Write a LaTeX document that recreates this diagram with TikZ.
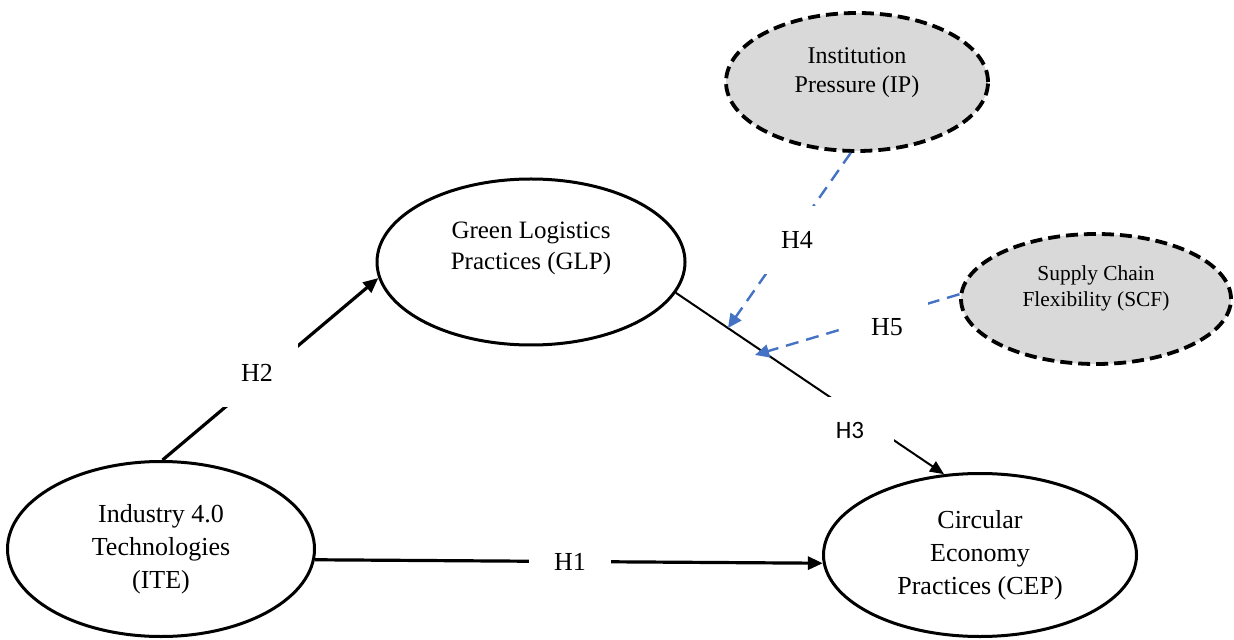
\documentclass[tikz,border=0pt]{standalone}
\usepackage{fontspec}
\setmainfont{Liberation Serif}
\newfontfamily\labelsans{Carlito}
\usepackage{xcolor}
\definecolor{hypblue}{RGB}{68,114,196}
\definecolor{modgray}{RGB}{217,217,217}
\usepackage{tikz}
\usetikzlibrary{shapes.geometric}
\usetikzlibrary{arrows.meta}
\newcommand{\hypsep}{12.5pt}
\newcommand{\bigtext}{\fontsize{13}{16.5}\selectfont}
\tikzset{
    construct/.style={draw, ellipse, line width=1.5pt, inner sep=0pt, align=center, font=\bigtext},
    moderator/.style={construct, fill=modgray, line width=1.9pt, dash pattern=on 6pt off 3pt},
    inside/.style={align=center, inner sep=0pt},
    hyp/.style={fill=white, inner sep=\hypsep, font=\fontsize{13}{16}\selectfont},
    main-path/.style={-{Triangle[length=7.5pt, width=6.5pt]}, line width=1.6pt},
    mod-path/.style={-{Triangle[length=7pt, width=6.5pt]}, hypblue, line width=1.2pt, dash pattern=on 6.5pt off 4pt}
}
\begin{document}
\begin{tikzpicture}[x=0.5pt, y=-0.5pt]
    \useasboundingbox (0,0) rectangle (1234,640);

    \node[construct, minimum width=153.5pt, minimum height=87.5pt] (ite) at (161,549) {Industry 4.0\\Technologies\\(ITE)};
    \node[construct, minimum width=154pt, minimum height=83pt,
          label={[inside, font=\fontsize{12.5}{15.5}\selectfont, yshift=6.7pt]center:{Green Logistics\\Practices (GLP)}}] (glp) at (531,262) {};
    \node[construct, minimum width=156.5pt, minimum height=81.5pt] (cep) at (980,555) {Circular\\Economy\\Practices (CEP)};
    \node[moderator, minimum width=131pt, minimum height=69pt,
          label={[inside, font=\fontsize{12}{14.5}\selectfont, yshift=4.8pt]center:{Institution\\Pressure (IP)}}] (ip) at (857,82) {};
    \node[moderator, minimum width=135pt, minimum height=65pt,
          label={[inside, font=\fontsize{10.7}{13.4}\selectfont, yshift=5.3pt]center:{Supply Chain\\Flexibility (SCF)}}] (scf) at (1096,299) {};

    % points where the moderators hit the GLP -> CEP path
    \coordinate (mod-ip) at (728,328);
    \coordinate (mod-scf) at (755,355);

    \draw[main-path] (ite.89) -- (glp.186);
    \draw[main-path] (ite.-4) -- (cep.183);
    \draw[-{Triangle[length=7pt, width=6pt]}, line width=1pt] (glp.-12) -- (cep.114);
    \draw[mod-path] (ip.-95) -- (mod-ip);
    \draw[mod-path] (scf.178) -- (mod-scf);

    \node[hyp] (h1) at (570,562) {H1};
    \node[hyp] (h2) at (257,373) {H2};
    \node[hyp, inner xsep=15pt, font=\labelsans\fontsize{12.5}{15}\selectfont] (h3) at (850,430) {H3};
    \node[hyp] (h4) at (797,240) {H4};
    \node[hyp] (h5) at (887,327) {H5};
\end{tikzpicture}
\end{document}
